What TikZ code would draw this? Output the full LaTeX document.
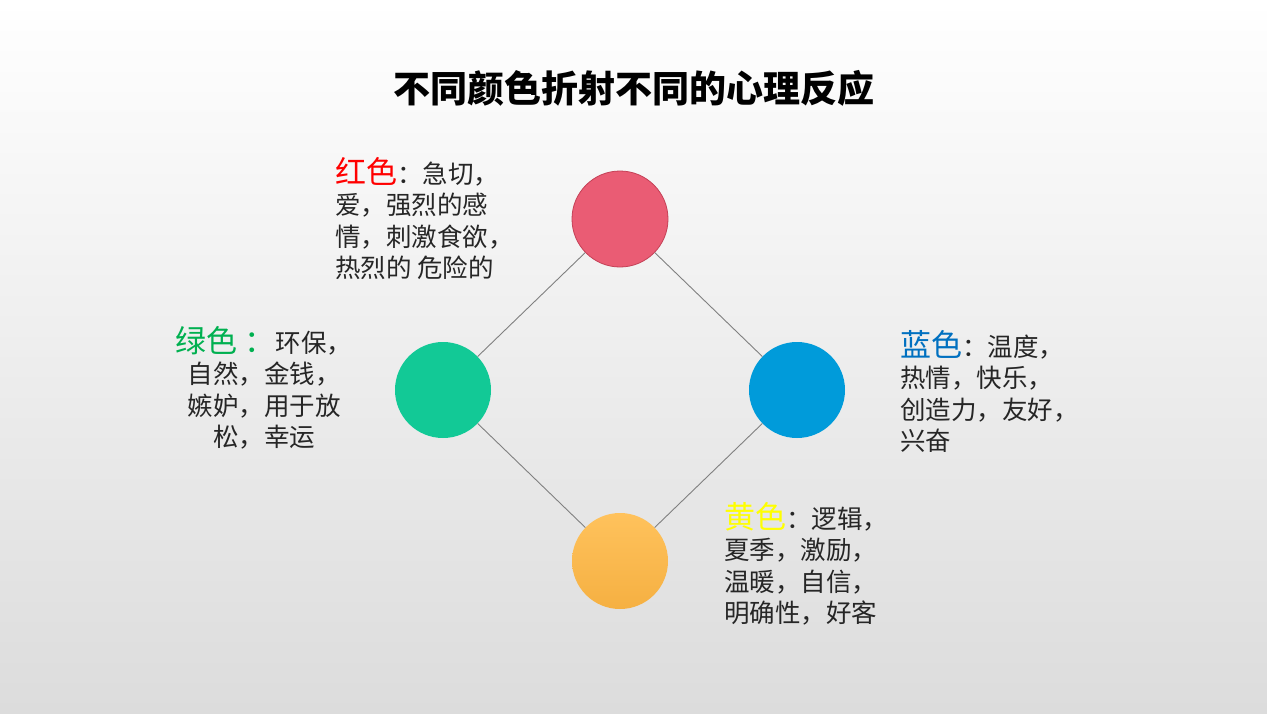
\documentclass[tikz,border=0pt]{standalone}
\usepackage{fontspec}
\setmainfont{Noto Sans CJK SC}
\usetikzlibrary{positioning}

\definecolor{dotred}{RGB}{234,92,116}
\definecolor{dotredline}{RGB}{196,64,86}
\definecolor{dotgreen}{RGB}{18,201,150}
\definecolor{dotblue}{RGB}{0,155,218}
\definecolor{dotyellowtop}{RGB}{255,194,92}
\definecolor{dotyellowbot}{RGB}{245,176,66}
\definecolor{linkgray}{RGB}{128,128,128}
\definecolor{notegray}{RGB}{38,38,38}
\definecolor{bgtop}{RGB}{255,255,255}
\definecolor{bgmid}{RGB}{242,242,242}
\definecolor{bgbot}{RGB}{220,220,220}
\definecolor{labred}{RGB}{255,0,0}
\definecolor{labgreen}{RGB}{0,176,80}
\definecolor{labblue}{RGB}{0,112,192}
\definecolor{labyellow}{RGB}{255,255,0}

\tikzset{
  dot/.style={circle, minimum size=96pt, inner sep=0pt},
  link/.style={draw=linkgray, line width=0.9pt},
  note/.style={inner sep=0pt, text=notegray, font=\fontsize{25.5}{31.5}\selectfont},
}
\newcommand{\lab}[2]{{\fontsize{31}{31.5}\selectfont\color{#1}#2}}

\begin{document}
\begin{tikzpicture}[x=1pt, y=-1pt]
  % background
  \shade[top color=bgtop, middle color=bgmid, bottom color=bgbot] (0,0) rectangle (1267,713);
  \useasboundingbox (0,0) rectangle (1267,713);
  % title
  \node[font=\fontsize{37}{40}\selectfont\bfseries] (title) at (634,88) {不同颜色折射不同的心理反应};
  % colour dots
  \node[dot, fill=dotred, draw=dotredline, line width=0.8pt] (red) at (620,219) {};
  \node[dot, fill=dotgreen] (green) at (443,390) {};
  \node[dot, fill=dotblue] (blue) at (797,390) {};
  \node[dot, top color=dotyellowtop, bottom color=dotyellowbot] (yellow) at (620,561) {};
  % links
  \foreach \from/\to in {red/green, red/blue, green/yellow, blue/yellow}
    \draw[link] (\from) -- (\to);
  % notes
  \node[note, anchor=north west, align=left] (rednote) at (335,157)
    {\lab{labred}{红色}：急切，\\爱，强烈的感\\情，刺激食欲，\\热烈的 危险的};
  \node[note, anchor=north, align=center] (greennote) at (264,326)
    {\lab{labgreen}{绿色 ：}环保，\\自然，金钱，\\嫉妒，用于放\\松，幸运};
  \node[note, anchor=north west, align=left] (bluenote) at (900,330)
    {\lab{labblue}{蓝色}：温度，\\热情，快乐，\\创造力，友好，\\兴奋};
  \node[note, anchor=north west, align=left] (yellownote) at (724,502)
    {\lab{labyellow}{黄色}：逻辑，\\夏季，激励，\\温暖，自信，\\明确性，好客};
\end{tikzpicture}
\end{document}
